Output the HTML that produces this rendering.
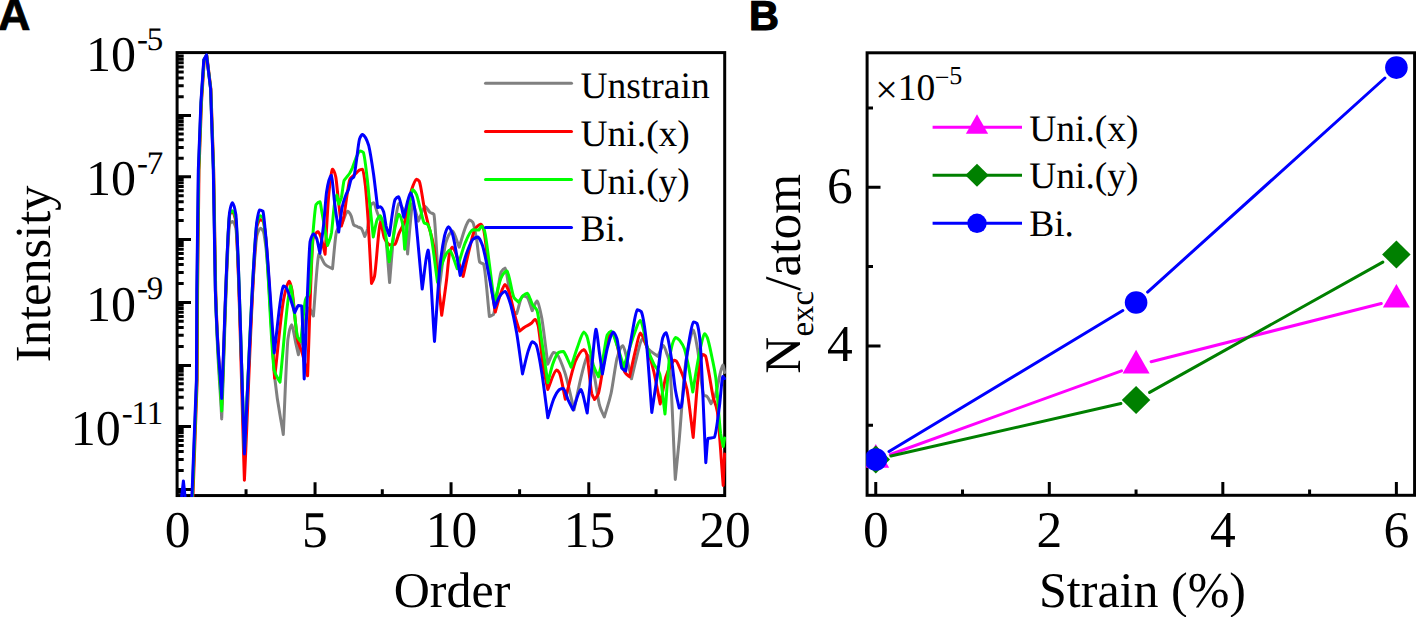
<!DOCTYPE html><html><head><meta charset="utf-8"><style>html,body{margin:0;padding:0;background:#fff;overflow:hidden;width:1416px;height:617px}svg{display:block;text-rendering:geometricPrecision}</style></head><body><svg width="1416" height="617" viewBox="0 0 1416 617">
<defs><clipPath id="ca"><rect x="175.6" y="51.1" width="550.6" height="445.95"/></clipPath><clipPath id="cb"><rect x="866.2" y="51.3" width="549.8999999999999" height="445.5"/></clipPath></defs>
<rect width="1416" height="617" fill="#fff"/>
<path d="M177.1,96.71H183.7 M177.1,85.75H183.7 M177.1,77.97H183.7 M177.1,71.94H183.7 M177.1,67.01H183.7 M177.1,62.84H183.7 M177.1,59.23H183.7 M177.1,56.05H183.7 M177.1,115.45H191 M177.1,158.30H183.7 M177.1,147.50H183.7 M177.1,139.84H183.7 M177.1,133.90H183.7 M177.1,129.05H183.7 M177.1,124.95H183.7 M177.1,121.39H183.7 M177.1,118.25H183.7 M177.1,176.75H191 M177.1,220.61H183.7 M177.1,209.56H183.7 M177.1,201.72H183.7 M177.1,195.64H183.7 M177.1,190.67H183.7 M177.1,186.47H183.7 M177.1,182.83H183.7 M177.1,179.62H183.7 M177.1,239.50H191 M177.1,283.47H183.7 M177.1,272.39H183.7 M177.1,264.53H183.7 M177.1,258.43H183.7 M177.1,253.45H183.7 M177.1,249.24H183.7 M177.1,245.60H183.7 M177.1,242.38H183.7 M177.1,302.40H191 M177.1,346.44H183.7 M177.1,335.34H183.7 M177.1,327.47H183.7 M177.1,321.36H183.7 M177.1,316.38H183.7 M177.1,312.16H183.7 M177.1,308.51H183.7 M177.1,305.28H183.7 M177.1,365.40H191 M177.1,408.11H183.7 M177.1,397.35H183.7 M177.1,389.71H183.7 M177.1,383.79H183.7 M177.1,378.95H183.7 M177.1,374.86H183.7 M177.1,371.32H183.7 M177.1,368.20H183.7 M177.1,426.50H191 M177.1,470.54H183.7 M177.1,459.44H183.7 M177.1,451.57H183.7 M177.1,445.46H183.7 M177.1,440.48H183.7 M177.1,436.26H183.7 M177.1,432.61H183.7 M177.1,429.38H183.7 M177.1,489.50H191 M177.1,492.35H183.7 M315.05,495.55V482.2 M451.05,495.55V482.2 M588.80,495.55V482.2 M246.05,495.55V489.3 M382.30,495.55V489.3 M519.60,495.55V489.3 M656.05,495.55V489.3" stroke="#000" stroke-width="3" fill="none"/>
<rect x="177.1" y="52.6" width="547.6" height="442.95" fill="none" stroke="#000" stroke-width="3"/>
<g clip-path="url(#ca)" fill="none" stroke-width="3" stroke-linejoin="round" stroke-linecap="round">
<path stroke="#808080" d="M180.0,520.0C183.67,520.0 187.33,520.0 191.0,520.0C191.43,511.7 191.87,503.3 192.3,495.0C193.73,456.7 195.17,418.3 196.6,380.0C196.73,350.0 196.87,320.0 197.0,290.0C197.50,250.0 198.00,210.0 198.5,170.0C199.33,147.5 200.17,125.0 201.0,102.5C201.97,88.2 202.93,74.0 203.9,59.7C204.77,58.2 205.63,56.7 206.5,55.2C207.87,66.5 209.23,77.7 210.6,89.0C211.53,116.0 212.47,143.0 213.4,170.0C214.07,210.0 214.73,250.0 215.4,290.0C217.50,367.3 219.60,375.9 221.7,418.9C224.33,353.9 226.97,240.8 229.6,224.0C230.53,222.5 231.47,221.7 232.4,221.5C233.57,221.9 234.73,224.1 235.9,228.0C238.73,251.2 241.57,376.0 244.4,450.0C248.53,378.7 252.67,264.0 256.8,236.0C258.03,231.4 259.27,228.8 260.5,228.3C261.50,228.5 262.50,229.8 263.5,232.0C264.33,234.7 265.17,241.5 266.0,248.0C269.00,276.5 272.00,346.1 275.0,380.0C277.77,406.8 280.53,416.3 283.3,434.5C284.83,402.8 286.37,355.4 287.9,339.4C289.13,330.6 290.37,325.8 291.6,324.8C293.03,326.1 294.47,337.4 295.9,343.7C296.73,347.4 297.57,351.0 298.4,354.7C299.03,351.5 299.67,348.4 300.3,345.2C301.87,337.4 303.43,328.8 305.0,322.0C306.33,316.6 307.67,308.9 309.0,308.0C310.47,308.5 311.93,313.3 313.4,316.0C315.23,295.4 317.07,258.3 318.9,254.2C320.83,254.8 322.77,261.4 324.7,263.9C327.30,266.8 329.90,267.2 332.5,268.8C333.80,256.5 335.10,237.4 336.4,231.8C338.33,226.5 340.27,226.5 342.2,223.0C343.97,219.6 345.73,212.1 347.5,211.3C348.70,211.6 349.90,213.1 351.1,215.8C351.97,218.1 352.83,223.5 353.7,224.8C355.00,226.0 356.30,226.1 357.6,226.8C358.90,227.4 360.20,227.6 361.5,228.7C362.57,230.1 363.63,233.9 364.7,236.5C365.63,234.0 366.57,233.1 367.5,229.0C368.57,223.3 369.63,208.9 370.7,205.6C371.67,203.9 372.63,202.9 373.6,202.7C374.90,203.4 376.20,209.8 377.5,213.3C379.00,217.3 380.50,220.4 382.0,225.0C383.33,229.4 384.67,231.0 386.0,240.0C387.20,250.0 388.40,268.3 389.6,282.5C391.07,265.6 392.53,245.4 394.0,231.7C395.63,218.3 397.27,205.5 398.9,203.6C400.83,204.2 402.77,207.5 404.7,213.3C405.67,218.6 406.63,240.4 407.6,254.0C408.60,242.7 409.60,230.0 410.6,220.0C411.23,214.0 411.87,204.7 412.5,203.6C414.43,204.8 416.37,215.3 418.3,221.1C420.57,216.2 422.83,207.5 425.1,206.5C426.73,206.9 428.37,211.0 430.0,212.4C431.30,213.4 432.60,213.2 433.9,214.3C434.53,216.3 435.17,227.9 435.8,236.7C436.80,251.9 437.80,273.6 438.8,292.0C441.07,275.8 443.33,253.0 445.6,243.3C447.90,235.9 450.20,231.8 452.5,231.0C454.73,232.1 456.97,241.8 459.2,247.2C461.47,240.1 463.73,231.1 466.0,225.8C467.17,223.4 468.33,220.4 469.5,220.0C470.63,220.2 471.77,221.0 472.9,222.4C474.17,225.0 475.43,232.6 476.7,240.0C477.70,246.4 478.70,259.9 479.7,262.2C481.00,263.4 482.30,263.0 483.6,264.2C485.53,269.3 487.47,299.1 489.4,316.5C490.70,315.9 492.00,315.8 493.3,314.7C495.90,309.9 498.50,279.0 501.1,272.0C502.40,269.7 503.70,268.4 505.0,268.1C507.60,271.0 510.20,305.2 512.8,310.9C514.10,312.5 515.40,312.7 516.7,313.6C518.63,307.7 520.57,297.2 522.5,296.0C524.00,296.1 525.50,296.4 527.0,297.0C528.73,298.5 530.47,306.1 532.2,310.7C533.83,307.5 535.47,301.6 537.1,301.0C538.73,302.2 540.37,310.9 542.0,319.4C543.93,331.0 545.87,349.3 547.8,364.2C549.73,360.3 551.67,353.3 553.6,352.5C554.57,352.6 555.53,352.9 556.5,353.5C559.43,356.5 562.37,365.0 565.3,373.9C568.20,383.8 571.10,397.9 574.0,409.9C576.30,399.2 578.60,387.2 580.9,377.8C583.20,369.0 585.50,356.9 587.8,355.4C589.73,356.5 591.67,364.3 593.6,372.0C595.53,380.8 597.47,396.7 599.4,405.0C601.03,410.9 602.67,413.0 604.3,417.0C606.57,409.1 608.83,403.6 611.1,393.3C613.07,383.4 615.03,367.0 617.0,358.3C618.93,351.2 620.87,346.5 622.8,345.7C624.73,347.1 626.67,358.4 628.6,366.1C629.57,370.1 630.53,374.6 631.5,378.8C633.13,372.0 634.77,364.6 636.4,358.3C638.33,351.1 640.27,340.2 642.2,338.9C644.17,339.5 646.13,345.9 648.1,348.6C651.33,352.6 654.57,353.8 657.8,356.4C659.67,352.8 661.53,346.2 663.4,345.5C664.63,346.1 665.87,351.0 667.1,354.5C667.90,356.9 668.70,357.6 669.5,362.2C671.43,379.9 673.37,440.3 675.3,479.4C676.60,466.3 677.90,454.1 679.2,440.0C681.13,418.2 683.07,386.2 685.0,368.1C686.30,357.6 687.60,351.2 688.9,344.7C690.37,338.1 691.83,331.0 693.3,330.0C694.73,331.3 696.17,341.4 697.6,349.3C699.63,361.7 701.67,391.2 703.7,395.3C704.77,395.9 705.83,395.7 706.9,396.3C708.30,397.5 709.70,401.2 711.1,403.7C712.50,400.9 713.90,398.9 715.3,395.3C717.87,387.8 720.43,367.0 723.0,365.0C723.53,365.5 724.07,370.0 724.6,372.5"/>
<path stroke="#ff0000" d="M180.0,520.0C183.83,520.0 187.67,520.0 191.5,520.0C192.00,511.7 192.50,503.3 193.0,495.0C194.40,456.7 195.80,418.3 197.2,380.0C197.33,350.0 197.47,320.0 197.6,290.0C198.07,250.0 198.53,210.0 199.0,170.0C199.83,147.5 200.67,125.0 201.5,102.5C202.43,88.2 203.37,74.0 204.3,59.7C205.13,58.3 205.97,56.9 206.8,55.5C208.17,66.7 209.53,77.8 210.9,89.0C211.83,116.0 212.77,143.0 213.7,170.0C214.37,210.0 215.03,250.0 215.7,290.0C217.70,359.0 219.70,366.7 221.7,405.0C224.40,341.3 227.10,230.1 229.8,214.0C230.67,212.8 231.53,212.1 232.4,212.0C233.57,212.7 234.73,216.0 235.9,222.0C238.73,252.2 241.57,394.1 244.4,480.2C248.60,395.5 252.80,255.2 257.0,226.0C258.17,222.2 259.33,220.0 260.5,219.6C261.50,219.8 262.50,220.6 263.5,222.0C264.27,224.0 265.03,231.5 265.8,238.0C268.73,268.0 271.67,331.5 274.6,378.2C277.57,352.1 280.53,318.1 283.5,300.0C285.40,290.5 287.30,282.5 289.2,281.2C290.13,281.8 291.07,285.5 292.0,290.0C293.80,300.8 295.60,328.2 297.4,339.4C298.93,347.0 300.47,347.0 302.0,352.0C303.87,358.7 305.73,367.9 307.6,375.8C309.43,330.1 311.27,251.9 313.1,238.6C314.70,234.5 316.30,232.3 317.9,231.8C318.87,232.1 319.83,234.3 320.8,236.7C322.23,240.9 323.67,248.4 325.1,254.2C326.20,235.8 327.30,213.6 328.4,198.9C329.77,183.2 331.13,171.2 332.5,169.2C333.60,169.7 334.70,172.3 335.8,177.0C336.60,181.5 337.40,191.8 338.2,198.9C339.27,208.3 340.33,217.0 341.4,226.1C342.27,222.7 343.13,220.1 344.0,215.8C345.07,209.8 346.13,200.4 347.2,193.7C348.07,188.5 348.93,181.8 349.8,179.5C351.53,176.4 353.27,176.0 355.0,174.3C356.30,173.0 357.60,171.3 358.9,170.4C360.07,169.7 361.23,169.4 362.4,169.3C363.40,170.4 364.40,177.4 365.4,185.9C366.27,194.5 367.13,205.8 368.0,218.4C369.17,236.8 370.33,261.8 371.5,283.5C372.50,281.1 373.50,280.6 374.5,276.4C376.47,265.5 378.43,226.1 380.4,222.5C381.67,223.5 382.93,233.9 384.2,237.8C385.87,242.1 387.53,242.6 389.2,245.0C391.13,244.8 393.07,244.7 395.0,244.3C396.30,243.3 397.60,236.9 398.9,233.6C400.83,228.9 402.77,227.0 404.7,221.1C406.97,213.1 409.23,197.8 411.5,190.0C413.13,185.1 414.77,180.0 416.4,179.3C417.37,179.4 418.33,180.1 419.3,181.3C420.93,184.8 422.57,199.6 424.2,207.5C425.50,213.5 426.80,218.5 428.1,223.9C430.03,231.8 431.97,235.8 433.9,247.2C435.20,255.9 436.50,267.1 437.8,278.3C439.10,289.8 440.40,303.0 441.7,315.3C443.30,303.6 444.90,293.4 446.5,280.3C447.50,271.8 448.50,258.2 449.5,253.1C450.47,249.6 451.43,247.6 452.4,247.2C455.97,249.1 459.53,266.7 463.1,276.4C465.03,268.0 466.97,259.0 468.9,251.1C470.83,243.4 472.77,233.9 474.7,229.7C476.70,226.5 478.70,224.7 480.7,224.3C481.67,224.6 482.63,226.3 483.6,229.2C485.53,237.4 487.47,260.0 489.4,273.9C491.37,287.6 493.33,299.3 495.3,312.0C496.90,306.4 498.50,300.0 500.1,295.3C501.73,290.9 503.37,285.3 505.0,284.6C506.30,285.1 507.60,288.3 508.9,291.4C511.17,297.9 513.43,310.4 515.7,318.6C517.00,323.1 518.30,326.9 519.6,331.1C521.23,329.8 522.87,328.4 524.5,327.2C526.77,325.7 529.03,325.1 531.3,323.3C532.57,322.2 533.83,319.7 535.1,319.4C536.10,319.8 537.10,321.8 538.1,325.3C539.70,332.9 541.30,353.1 542.9,364.2C544.53,374.6 546.17,381.1 547.8,389.5C550.70,383.0 553.60,371.3 556.5,370.0C557.50,370.2 558.50,371.2 559.5,372.9C561.43,377.6 563.37,390.4 565.3,399.2C568.53,386.9 571.77,371.3 575.0,362.2C577.93,355.3 580.87,350.4 583.8,349.6C584.80,349.9 585.80,351.6 586.8,354.5C588.43,361.4 590.07,385.1 591.7,393.3C592.67,397.0 593.63,397.4 594.6,399.5C595.90,397.4 597.20,397.0 598.5,393.3C600.10,387.4 601.70,375.0 603.3,366.1C605.27,355.2 607.23,337.0 609.2,334.0C610.47,333.4 611.73,333.1 613.0,333.0C615.30,334.6 617.60,348.8 619.9,356.4C621.50,361.7 623.10,368.5 624.7,372.0C626.33,374.9 627.97,375.2 629.6,376.8C631.53,368.1 633.47,358.5 635.4,350.6C637.03,344.2 638.67,334.3 640.3,333.1C642.23,333.9 644.17,339.8 646.1,344.7C648.70,352.0 651.30,361.1 653.9,372.0C656.00,381.5 658.10,393.3 660.2,404.0C662.00,395.3 663.80,384.8 665.6,377.8C667.53,371.3 669.47,367.7 671.4,364.2C672.37,362.6 673.33,360.6 674.3,360.3C674.93,360.3 675.57,360.6 676.2,361.0C677.73,362.6 679.27,367.0 680.8,370.7C682.87,376.1 684.93,379.4 687.0,389.5C689.07,401.6 691.13,421.4 693.2,437.4C695.00,415.6 696.80,387.4 698.6,372.0C700.00,362.3 701.40,355.7 702.8,354.5C703.67,354.6 704.53,355.0 705.4,355.8C706.47,357.7 707.53,365.8 708.6,371.3C710.13,379.4 711.67,390.1 713.2,397.4C714.60,403.5 716.00,403.3 717.4,412.1C719.33,427.8 721.27,461.0 723.2,485.5C723.67,475.0 724.13,464.5 724.6,454.0"/>
<path stroke="#00ff00" d="M180.0,520.0C183.67,520.0 187.33,520.0 191.0,520.0C191.50,511.7 192.00,503.3 192.5,495.0C193.93,456.7 195.37,418.3 196.8,380.0C196.93,350.0 197.07,320.0 197.2,290.0C197.70,250.0 198.20,210.0 198.7,170.0C199.53,147.5 200.37,125.0 201.2,102.5C202.13,88.2 203.07,74.0 204.0,59.7C204.87,58.2 205.73,56.7 206.6,55.2C207.97,66.5 209.33,77.7 210.7,89.0C211.63,116.0 212.57,143.0 213.5,170.0C214.17,210.0 214.83,250.0 215.5,290.0C217.57,362.6 219.63,370.7 221.7,411.0C224.33,345.3 226.97,231.9 229.6,214.0C230.53,212.1 231.47,211.0 232.4,210.8C233.57,211.3 234.73,214.1 235.9,219.0C238.73,245.2 241.57,374.3 244.4,452.0C248.53,376.0 252.67,255.3 256.8,224.0C257.93,219.0 259.07,216.3 260.2,215.7C261.13,215.9 262.07,216.6 263.0,218.0C263.83,220.3 264.67,228.8 265.5,236.0C268.40,265.9 271.30,352.1 274.2,370.4C276.13,377.4 278.07,378.2 280.0,382.1C283.57,350.0 287.13,292.2 290.7,285.8C292.00,287.8 293.30,305.6 294.6,315.3C295.57,322.5 296.53,333.0 297.5,336.7C298.60,339.6 299.70,339.9 300.8,341.5C302.33,327.7 303.87,307.3 305.4,300.0C306.67,295.8 307.93,297.2 309.2,293.0C310.50,285.1 311.80,248.4 313.1,231.8C314.07,220.7 315.03,207.6 316.0,204.6C317.30,202.9 318.60,201.9 319.9,201.7C320.53,202.3 321.17,208.1 321.8,211.4C323.73,221.9 325.67,234.1 327.6,245.4C328.90,241.2 330.20,240.4 331.5,232.8C332.43,226.1 333.37,212.3 334.3,205.4C335.17,200.0 336.03,195.7 336.9,195.0C337.53,195.6 338.17,201.1 338.8,204.1C339.67,201.9 340.53,201.1 341.4,197.6C342.27,193.4 343.13,183.8 344.0,180.8C344.63,179.2 345.27,179.1 345.9,178.2C347.20,176.4 348.50,175.1 349.8,173.0C350.67,171.5 351.53,169.7 352.4,167.8C353.60,164.9 354.80,160.8 356.0,158.0C357.33,155.1 358.67,151.6 360.0,151.1C361.10,151.2 362.20,151.6 363.3,152.4C364.63,155.0 365.97,168.4 367.3,179.5C368.17,187.3 369.03,197.0 369.9,205.4C371.03,216.3 372.17,226.5 373.3,237.0C374.57,231.2 375.83,223.3 377.1,219.7C378.17,217.4 379.23,216.1 380.3,215.8C381.40,216.4 382.50,220.6 383.6,224.8C384.43,228.4 385.27,232.7 386.1,237.8C387.13,244.6 388.17,253.8 389.2,261.8C391.13,250.5 393.07,236.9 395.0,227.8C396.30,222.3 397.60,215.2 398.9,214.3C400.20,215.0 401.50,218.6 402.8,225.0C403.43,229.4 404.07,241.1 404.7,249.2C406.33,234.7 407.97,217.3 409.6,205.6C410.57,199.3 411.53,190.8 412.5,189.7C413.83,190.0 415.17,191.7 416.5,194.6C417.80,198.1 419.10,204.4 420.4,209.2C421.70,213.9 423.00,221.4 424.3,223.0C425.27,223.6 426.23,223.4 427.2,224.0C428.17,225.0 429.13,227.4 430.1,230.6C432.57,241.1 435.03,264.9 437.5,282.0C438.90,276.2 440.30,269.5 441.7,264.7C443.00,260.6 444.30,257.6 445.6,255.0C446.90,252.7 448.20,250.4 449.5,250.1C452.07,251.3 454.63,262.4 457.2,268.6C459.80,260.2 462.40,250.2 465.0,243.3C467.60,237.2 470.20,230.6 472.8,229.7C474.80,229.7 476.80,230.0 478.8,230.1C479.77,228.8 480.73,226.6 481.7,226.3C482.67,226.6 483.63,228.2 484.6,231.1C486.20,237.5 487.80,252.5 489.4,264.2C491.03,276.5 492.67,290.1 494.3,303.1C496.57,294.7 498.83,283.7 501.1,277.8C503.03,273.7 504.97,271.5 506.9,271.0C509.20,272.7 511.50,291.7 513.8,297.2C515.40,300.1 517.00,300.5 518.6,302.1C520.23,299.8 521.87,296.9 523.5,295.3C524.80,294.2 526.10,293.4 527.4,293.3C528.37,293.7 529.33,297.0 530.3,299.2C530.93,300.7 531.57,302.5 532.2,303.9C533.83,307.2 535.47,306.6 537.1,310.7C538.73,316.5 540.37,331.9 542.0,342.8C543.93,355.8 545.87,369.4 547.8,382.7C549.43,376.5 551.07,369.3 552.7,364.2C554.63,358.8 556.57,353.9 558.5,352.5C560.10,351.9 561.70,351.6 563.3,351.5C564.60,352.0 565.90,355.8 567.2,358.3C568.50,361.0 569.80,364.2 571.1,367.1C573.07,360.9 575.03,354.2 577.0,348.6C579.30,342.4 581.60,333.2 583.9,332.1C584.87,332.4 585.83,334.0 586.8,336.0C589.07,342.1 591.33,358.4 593.6,366.1C595.23,370.9 596.87,373.2 598.5,376.8C600.10,370.0 601.70,364.1 603.3,356.4C604.60,349.8 605.90,338.5 607.2,335.0C608.50,332.7 609.80,331.4 611.1,331.1C613.07,332.0 615.03,339.7 617.0,345.0C619.27,351.5 621.53,359.7 623.8,367.1C627.37,355.8 630.93,342.6 634.5,333.1C636.43,328.3 638.37,321.2 640.3,320.4C642.90,322.4 645.50,342.4 648.1,350.6C650.03,356.1 651.97,360.2 653.9,364.2C655.83,368.0 657.77,368.1 659.7,373.9C661.47,381.3 663.23,400.6 665.0,414.0C666.50,395.4 668.00,370.2 669.5,358.3C671.53,345.9 673.57,339.0 675.6,337.6C676.90,337.8 678.20,338.8 679.5,340.2C681.20,342.4 682.90,344.4 684.6,349.3C686.03,354.2 687.47,360.8 688.9,368.1C690.20,375.2 691.50,384.0 692.8,392.0C694.43,382.1 696.07,371.1 697.7,362.2C700.03,350.5 702.37,335.6 704.7,333.7C705.57,334.0 706.43,335.6 707.3,337.6C708.83,341.9 710.37,349.8 711.9,357.0C713.20,363.4 714.50,368.0 715.8,377.8C717.40,391.9 719.00,420.2 720.6,433.2C721.50,439.3 722.40,442.1 723.3,446.5C723.73,443.7 724.17,440.8 724.6,438.0"/>
<path stroke="#0000ff" d="M179.0,520.0C180.47,507.0 181.93,494.0 183.4,481.0C184.77,494.0 186.13,507.0 187.5,520.0C188.50,520.0 189.50,520.0 190.5,520.0C191.00,511.7 191.50,503.3 192.0,495.0C193.47,456.7 194.93,418.3 196.4,380.0C196.53,350.0 196.67,320.0 196.8,290.0C197.30,250.0 197.80,210.0 198.3,170.0C199.17,147.5 200.03,125.0 200.9,102.5C201.87,88.2 202.83,74.0 203.8,59.7C204.70,58.1 205.60,56.5 206.5,54.9C207.87,66.2 209.23,77.6 210.6,88.9C211.50,115.9 212.40,143.0 213.3,170.0C213.97,210.0 214.63,250.0 215.3,290.0C217.43,355.1 219.57,362.3 221.7,398.5C224.30,336.6 226.90,239.7 229.5,212.8C230.47,206.7 231.43,203.4 232.4,202.7C233.57,203.5 234.73,207.5 235.9,214.7C238.73,246.2 241.57,374.2 244.4,453.9C248.50,376.8 252.60,261.2 256.7,222.5C257.67,216.2 258.63,210.7 259.6,209.9C260.70,210.0 261.80,210.4 262.9,211.2C263.73,213.1 264.57,224.4 265.4,232.2C268.33,262.7 271.27,312.7 274.2,352.9C277.27,330.6 280.33,290.5 283.4,286.0C284.27,286.1 285.13,286.6 286.0,287.5C288.93,291.7 291.87,304.2 294.8,312.5C296.03,310.2 297.27,306.0 298.5,305.5C299.53,305.5 300.57,305.7 301.6,306.0C302.47,311.1 303.33,354.7 304.2,379.0C305.20,352.7 306.20,323.8 307.2,300.0C308.17,278.2 309.13,248.9 310.1,241.5C311.23,236.9 312.37,234.3 313.5,233.8C314.67,234.2 315.83,236.1 317.0,239.6C317.97,243.1 318.93,248.7 319.9,253.2C321.20,243.1 322.50,235.3 323.8,223.0C324.70,213.9 325.60,199.6 326.5,192.4C328.10,182.1 329.70,176.4 331.3,175.3C332.50,177.3 333.70,196.0 334.9,205.4C336.17,215.0 337.43,223.1 338.7,232.0C339.80,224.0 340.90,214.4 342.0,208.0C343.30,201.4 344.60,198.6 345.9,195.0C346.77,192.8 347.63,191.7 348.5,189.2C349.37,186.5 350.23,181.6 351.1,179.5C352.07,177.7 353.03,178.3 354.0,176.5C354.83,174.0 355.67,165.6 356.5,160.0C357.47,153.4 358.43,143.4 359.4,139.5C360.43,136.5 361.47,134.8 362.5,134.5C364.57,135.2 366.63,138.9 368.7,145.5C370.33,152.1 371.97,163.1 373.6,174.5C374.93,184.4 376.27,196.6 377.6,207.6C378.57,207.3 379.53,206.9 380.5,206.8C381.60,207.2 382.70,209.0 383.8,212.3C384.57,215.3 385.33,222.3 386.1,226.1C387.17,230.8 388.23,232.4 389.3,235.5C391.20,223.6 393.10,204.6 395.0,199.7C396.17,198.0 397.33,197.0 398.5,196.8C400.27,198.2 402.03,210.4 403.8,217.2C406.07,209.1 408.33,194.5 410.6,192.9C411.90,193.9 413.20,198.9 414.5,207.5C415.47,215.1 416.43,226.7 417.4,236.7C419.00,253.5 420.60,271.6 422.2,289.0C424.17,276.0 426.13,252.7 428.1,250.1C430.23,256.2 432.37,311.0 434.5,341.5C436.23,317.2 437.97,287.7 439.7,268.6C441.33,253.0 442.97,243.3 444.6,235.6C445.90,230.6 447.20,227.4 448.5,226.8C449.80,227.3 451.10,230.1 452.4,233.6C455.00,242.5 457.60,261.5 460.2,275.4C462.13,268.6 464.07,260.9 466.0,255.0C468.27,248.6 470.53,242.2 472.8,239.4C474.47,238.0 476.13,237.2 477.8,237.0C479.40,237.6 481.00,241.3 482.6,245.7C484.87,253.3 487.13,266.1 489.4,277.8C491.13,287.1 492.87,297.6 494.6,307.5C496.13,304.1 497.67,300.0 499.2,297.2C501.13,294.2 503.07,291.8 505.0,291.4C506.93,292.3 508.87,298.6 510.8,305.0C512.77,312.4 514.73,321.9 516.7,333.1C518.63,345.0 520.57,360.3 522.5,373.9C524.43,366.1 526.37,356.7 528.3,350.6C529.60,346.9 530.90,342.4 532.2,341.8C533.50,342.0 534.80,343.0 536.1,344.7C538.07,349.0 540.03,362.1 542.0,373.9C543.93,386.5 545.87,403.1 547.8,417.7C549.73,411.5 551.67,404.2 553.6,399.2C555.57,394.7 557.53,391.0 559.5,389.5C560.77,388.9 562.03,388.6 563.3,388.5C564.93,389.3 566.57,396.6 568.2,400.2C569.83,403.7 571.47,406.7 573.1,409.9C575.70,403.1 578.30,390.9 580.9,389.5C583.00,391.1 585.10,405.2 587.2,413.0C588.70,398.0 590.20,382.5 591.7,368.1C593.13,354.6 594.57,331.8 596.0,329.2C597.13,330.8 598.27,344.6 599.4,352.5C600.40,359.5 601.40,366.8 602.4,373.9C604.00,365.5 605.60,355.6 607.2,348.6C609.17,341.0 611.13,333.2 613.1,332.1C614.40,332.6 615.70,334.8 617.0,338.9C618.60,345.3 620.20,364.2 621.8,368.1C623.10,369.8 624.40,370.0 625.7,371.0C627.63,359.7 629.57,347.4 631.5,337.0C633.47,326.9 635.43,311.5 637.4,309.7C638.70,309.8 640.00,310.5 641.3,311.7C642.90,314.8 644.50,325.6 646.1,338.9C648.00,357.5 649.90,388.0 651.8,412.5C653.80,399.0 655.80,385.7 657.8,372.0C659.43,360.8 661.07,344.3 662.7,337.9C663.80,334.8 664.90,333.0 666.0,332.7C667.80,334.4 669.60,347.0 671.4,358.3C672.70,367.3 674.00,380.8 675.3,389.5C676.60,397.4 677.90,401.8 679.2,408.0C679.83,407.7 680.47,407.6 681.1,407.0C683.07,401.8 685.03,369.1 687.0,354.5C689.17,340.1 691.33,324.2 693.5,322.0C694.67,322.1 695.83,322.6 697.0,323.5C698.07,325.5 699.13,331.6 700.2,342.8C702.07,368.2 703.93,422.7 705.8,462.7C706.53,454.6 707.27,440.3 708.0,438.5C710.10,437.8 712.20,438.1 714.3,437.4C716.03,434.8 717.77,418.7 719.5,405.8C720.60,397.0 721.70,378.5 722.8,376.5C723.40,376.6 724.00,377.8 724.6,378.5"/>
</g>
<line x1="485.5" x2="571.5" y1="83.3" y2="83.3" stroke="#808080" stroke-width="3" stroke-linecap="round"/>
<text x="580.5" y="98.2" font-family='"Liberation Serif", serif' font-size="37.5">Unstrain</text>
<line x1="485.5" x2="571.5" y1="131.4" y2="131.4" stroke="#ff0000" stroke-width="3" stroke-linecap="round"/>
<text x="580.5" y="145.9" font-family='"Liberation Serif", serif' font-size="37.5">Uni.(x)</text>
<line x1="485.5" x2="571.5" y1="179.5" y2="179.5" stroke="#00ff00" stroke-width="3" stroke-linecap="round"/>
<text x="580.5" y="193.7" font-family='"Liberation Serif", serif' font-size="37.5">Uni.(y)</text>
<line x1="485.5" x2="571.5" y1="227.6" y2="227.6" stroke="#0000ff" stroke-width="3" stroke-linecap="round"/>
<text x="580.5" y="241.4" font-family='"Liberation Serif", serif' font-size="37.5">Bi.</text>
<text x="163.3" y="70.9" text-anchor="end" font-family='"Liberation Serif", serif' font-size="50">10<tspan font-size="33" dy="-21.4" dx="0.9">-</tspan><tspan font-size="33" dx="-1.2">5</tspan></text>
<text x="163.3" y="195.0" text-anchor="end" font-family='"Liberation Serif", serif' font-size="50">10<tspan font-size="33" dy="-21.4" dx="0.9">-</tspan><tspan font-size="33" dx="-1.2">7</tspan></text>
<text x="163.3" y="320.7" text-anchor="end" font-family='"Liberation Serif", serif' font-size="50">10<tspan font-size="33" dy="-21.4" dx="0.9">-</tspan><tspan font-size="33" dx="-1.2">9</tspan></text>
<text x="163.3" y="445.1" text-anchor="end" font-family='"Liberation Serif", serif' font-size="50">10<tspan font-size="33" dy="-21.4" dx="0.9">-</tspan><tspan font-size="33" dx="-1.2">11</tspan></text>
<text x="177.7" y="546.5" text-anchor="middle" font-family='"Liberation Serif", serif' font-size="51.5">0</text>
<text x="314.9" y="546.5" text-anchor="middle" font-family='"Liberation Serif", serif' font-size="51.5">5</text>
<text x="451.6" y="546.5" text-anchor="middle" font-family='"Liberation Serif", serif' font-size="51.5">10</text>
<text x="589.4" y="546.5" text-anchor="middle" font-family='"Liberation Serif", serif' font-size="51.5">15</text>
<text x="725.1" y="546.5" text-anchor="middle" font-family='"Liberation Serif", serif' font-size="51.5">20</text>
<text x="452" y="606.5" text-anchor="middle" font-family='"Liberation Serif", serif' font-size="50">Order</text>
<text transform="translate(50.1,273.8) rotate(-90)" text-anchor="middle" font-family='"Liberation Serif", serif' font-size="50.5">Intensity</text>
<text x="30.6" y="29.7" text-anchor="end" font-family='"Liberation Sans", sans-serif' font-weight="bold" font-size="45" stroke="#000" stroke-width="0.7">A</text>
<path d="M875.75,495.3V482 M1049.29,495.3V482 M1222.83,495.3V482 M1396.37,495.3V482 M962.52,495.3V489.5 M1136.06,495.3V489.5 M1309.60,495.3V489.5 M867.1,345.90H880.5 M867.1,187.30H880.5 M867.1,425.20H873 M867.1,266.60H873 M867.1,108.00H873" stroke="#000" stroke-width="3" fill="none"/>
<rect x="867.1" y="52.8" width="547.4999999999999" height="442.5" fill="none" stroke="#000" stroke-width="3"/>
<g clip-path="url(#cb)">
<line x1="890.3" y1="454.5" x2="1121.5" y2="370.8" stroke="#ff00ff" stroke-width="3" stroke-linecap="round"/>
<line x1="1151.1" y1="361.7" x2="1381.3" y2="303.5" stroke="#ff00ff" stroke-width="3" stroke-linecap="round"/>
<line x1="890.9" y1="456.0" x2="1120.9" y2="403.5" stroke="#008000" stroke-width="3" stroke-linecap="round"/>
<line x1="1149.6" y1="392.4" x2="1382.8" y2="262.1" stroke="#008000" stroke-width="3" stroke-linecap="round"/>
<line x1="889.0" y1="451.5" x2="1122.8" y2="310.5" stroke="#0000ff" stroke-width="3" stroke-linecap="round"/>
<line x1="1147.6" y1="292.1" x2="1384.9" y2="78.0" stroke="#0000ff" stroke-width="3" stroke-linecap="round"/>
<polygon points="875.8,444.1 889.2,467.7 862.2,467.7" fill="#ff00ff"/>
<polygon points="1136.1,349.8 1149.6,373.4 1122.6,373.4" fill="#ff00ff"/>
<polygon points="1396.4,284.0 1409.9,307.6 1382.9,307.6" fill="#ff00ff"/>
<polygon points="875.8,445.5 890.0,459.5 875.8,473.5 861.5,459.5" fill="#008000"/>
<polygon points="1136.1,386.0 1150.3,400.0 1136.1,414.0 1121.8,400.0" fill="#008000"/>
<polygon points="1396.4,240.5 1410.6,254.5 1396.4,268.5 1382.1,254.5" fill="#008000"/>
<circle cx="875.8" cy="459.5" r="11.3" fill="#0000ff"/>
<circle cx="1136.1" cy="302.5" r="11.3" fill="#0000ff"/>
<circle cx="1396.4" cy="67.6" r="11.3" fill="#0000ff"/>
</g>
<line x1="932.6" x2="1022" y1="127.2" y2="127.2" stroke="#ff00ff" stroke-width="3"/>
<polygon points="977.0,114.3 988.1,133.7 965.9,133.7" fill="#ff00ff"/>
<text x="1029.2" y="140.8" font-family='"Liberation Serif", serif' font-size="37.5">Uni.(x)</text>
<line x1="932.6" x2="1022" y1="175.2" y2="175.2" stroke="#008000" stroke-width="3"/>
<polygon points="977.0,163.8 988.7,175.2 977.0,186.7 965.3,175.2" fill="#008000"/>
<text x="1029.2" y="188.4" font-family='"Liberation Serif", serif' font-size="37.5">Uni.(y)</text>
<line x1="932.6" x2="1022" y1="223.3" y2="223.3" stroke="#0000ff" stroke-width="3"/>
<circle cx="977.0" cy="223.3" r="9.7" fill="#0000ff"/>
<text x="1029.2" y="236.0" font-family='"Liberation Serif", serif' font-size="37.5">Bi.</text>
<text x="852.8" y="360.9" text-anchor="end" font-family='"Liberation Serif", serif' font-size="51.5">4</text>
<text x="852.8" y="203.2" text-anchor="end" font-family='"Liberation Serif", serif' font-size="51.5">6</text>
<text x="875.8" y="546.8" text-anchor="middle" font-family='"Liberation Serif", serif' font-size="51.5">0</text>
<text x="1049.3" y="546.8" text-anchor="middle" font-family='"Liberation Serif", serif' font-size="51.5">2</text>
<text x="1222.8" y="546.8" text-anchor="middle" font-family='"Liberation Serif", serif' font-size="51.5">4</text>
<text x="1396.4" y="546.8" text-anchor="middle" font-family='"Liberation Serif", serif' font-size="51.5">6</text>
<text x="1142.5" y="607" text-anchor="middle" font-family='"Liberation Serif", serif' font-size="50">Strain (%)</text>
<text x="875.2" y="99.6" font-family='"Liberation Serif", serif' font-size="37.5"><tspan font-size="40" dy="3.4">×</tspan><tspan dy="-3.4" dx="0">10</tspan><tspan font-size="26" dy="-13.8" dx="-0.6">−</tspan><tspan font-size="26" dy="-1.8">5</tspan></text>
<text transform="translate(800,273.8) rotate(-90)" text-anchor="middle" font-family='"Liberation Serif", serif' font-size="51.3">N<tspan font-size="33" dy="12.9">exc</tspan><tspan dy="-12.9">/atom</tspan></text>
<text x="748.9" y="29.6" font-family='"Liberation Sans", sans-serif' font-weight="bold" font-size="41.5" stroke="#000" stroke-width="1.2">B</text>
</svg></body></html>
